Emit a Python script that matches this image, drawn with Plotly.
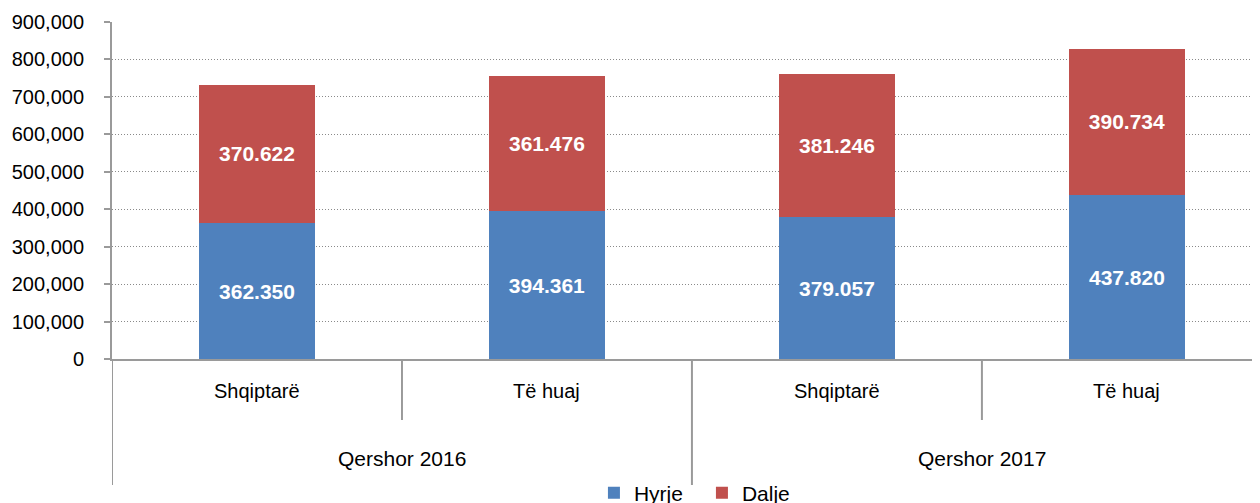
import plotly.graph_objects as go

groups = ["Qershor 2016", "Qershor 2017"]
categories = ["Shqiptarë", "Të huaj", "Shqiptarë", "Të huaj"]
hyrje = [362350, 394361, 379057, 437820]
dalje = [370622, 361476, 381246, 390734]
y_ticks = [0, 100000, 200000, 300000, 400000, 500000, 600000, 700000, 800000, 900000]

FONT = "Liberation Sans, Arial"
xpos = list(range(len(categories)))
fmt = lambda v: f"{v:,}".replace(",", ".")

fig = go.Figure()
for name, vals, col in [("Hyrje", hyrje, "#4F81BD"), ("Dalje", dalje, "#C0504D")]:
    fig.add_trace(go.Bar(x=xpos, y=vals, name=name, marker_color=col,
                         marker_line_width=0,
                         text=[fmt(v) for v in vals], textposition="inside",
                         insidetextanchor="middle", textangle=0,
                         textfont=dict(color="white", size=21, family=FONT, weight="bold"),
                         width=0.4))

# category labels
for i, c in enumerate(categories):
    fig.add_annotation(x=i, y=0, xref="x", yref="paper", text=c, showarrow=False,
                       yanchor="middle", yshift=-32,
                       font=dict(size=20, color="#000", family=FONT))
for g, gi in enumerate(groups):
    fig.add_annotation(x=0.5 + 2 * g, y=0, xref="x", yref="paper", text=gi, showarrow=False,
                       yanchor="middle", yshift=-99,
                       font=dict(size=21, color="#000", family=FONT))

# separators
ph = 337.0
for xv, depth in [(-0.5, 126), (0.5, 61), (1.5, 126), (2.5, 61)]:
    fig.add_shape(type="line", xref="x", yref="paper", x0=xv, x1=xv, y0=0, y1=-depth / ph,
                  line=dict(color="#9a9a9a", width=2))

fig.update_layout(
    width=1252, height=495,
    margin=dict(l=104, r=0, t=14, b=144),
    barmode="stack",
    plot_bgcolor="white", paper_bgcolor="white",
    font=dict(family=FONT, size=20, color="#000"),
    xaxis=dict(range=[-0.5, 3.459], showticklabels=False, showgrid=False, zeroline=False,
               showline=True, linecolor="#9a9a9a", linewidth=2, ticks=""),
    yaxis=dict(range=[0, 900000], tickvals=y_ticks, tickformat=",", showgrid=True,
               gridcolor="#8a8a8a", griddash="1px,2px", gridwidth=1,
               showline=True, linecolor="#9a9a9a", linewidth=2,
               ticks="outside", ticklen=6, tickcolor="#9a9a9a", tickwidth=2,
               ticklabelstandoff=16,
               zeroline=False, tickfont=dict(size=20)),
    legend=dict(orientation="h", xref="container", yref="container", x=0.468, xanchor="left",
                y=1 - 485 / 495, yanchor="middle", font=dict(size=21), traceorder="normal",
                entrywidth=63, entrywidthmode="pixels",
                bgcolor="rgba(0,0,0,0)"),
    showlegend=True,
)

fig.write_html("out.html")
